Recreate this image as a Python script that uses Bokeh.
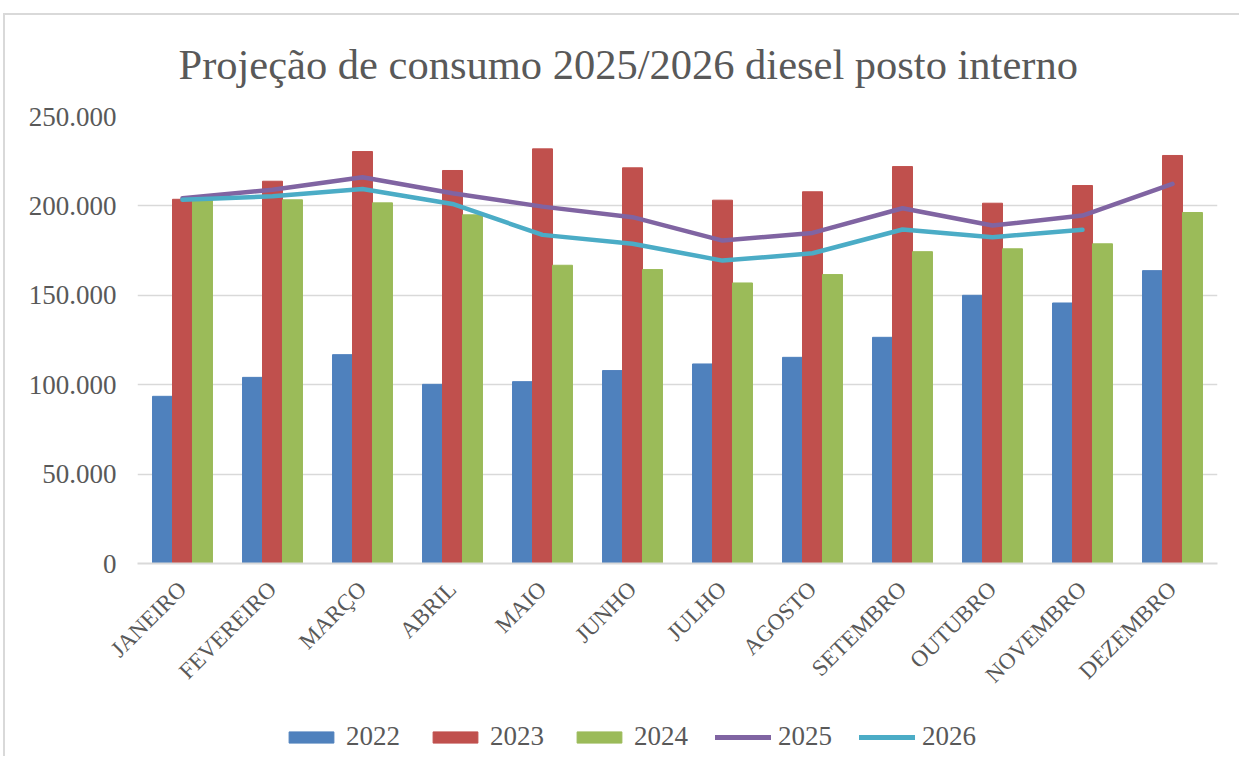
from bokeh.plotting import figure
from bokeh.models import FactorRange, Range1d, FixedTicker, Legend, LegendItem, ColumnDataSource, Title, InlineStyleSheet
from bokeh.transform import dodge
from bokeh.layouts import column
from bokeh.embed import file_html
from bokeh.resources import INLINE
import math

months = ["JANEIRO", "FEVEREIRO", "MARÇO", "ABRIL", "MAIO", "JUNHO", "JULHO",
          "AGOSTO", "SETEMBRO", "OUTUBRO", "NOVEMBRO", "DEZEMBRO"]
v2022 = [93500, 104100, 116800, 100200, 101700, 107900, 111600, 115300, 126500, 150000, 145700, 163800]
v2023 = [203700, 213800, 230400, 219800, 231900, 221300, 203200, 207900, 222000, 201500, 211400, 228200]
v2024 = [203200, 203400, 201700, 195000, 166800, 164400, 156900, 161600, 174400, 176000, 178800, 196300]
v2025 = [204300, 209000, 216000, 207100, 199600, 193700, 180600, 184900, 198700, 189000, 194600, 212300]
v2026 = [203400, 205400, 209500, 201100, 183800, 178800, 169400, 173500, 186800, 182500, 186600, None]
years = ["2022", "2023", "2024", "2025", "2026"]
colors = ["#4F81BD", "#C0504D", "#9BBB59", "#8064A2", "#4BACC6"]
y_ticks = [0, 50000, 100000, 150000, 200000, 250000]
y_tick_labels = ["0", "50.000", "100.000", "150.000", "200.000", "250.000"]

FONT = "Liberation Serif"
TXT = "#595959"

src = ColumnDataSource(dict(m=months, a=v2022, b=v2023, c=v2024))
src25 = ColumnDataSource(dict(m=months, y=v2025))
src26 = ColumnDataSource(dict(m=months[:11], y=v2026[:11]))

p = figure(x_range=FactorRange(*months, range_padding=0), y_range=Range1d(0, 250000),
           frame_width=1080, frame_height=447, output_backend="svg", toolbar_location=None,
           min_border_left=137, min_border_right=14, min_border_top=116, min_border_bottom=153)
p.title = None
t = Title(text="Projeção de consumo 2025/2026 diesel posto interno", align="left",
          text_font=FONT, text_font_size="42.5px", text_color=TXT, text_font_style="normal",
          offset=41, standoff=57)
p.add_layout(t, "above")

bw = 0.222
p.vbar(x=dodge("m", -bw, range=p.x_range), top="a", width=bw, source=src, color=colors[0])
p.vbar(x=dodge("m", 0, range=p.x_range), top="b", width=bw, source=src, color=colors[1])
p.vbar(x=dodge("m", bw, range=p.x_range), top="c", width=bw, source=src, color=colors[2])
p.line(x="m", y="y", source=src25, line_color=colors[3], line_width=4.5, line_join="round", line_cap="round")
p.line(x="m", y="y", source=src26, line_color=colors[4], line_width=4.5, line_join="round", line_cap="round")

p.yaxis.ticker = FixedTicker(ticks=y_ticks)
p.yaxis.major_label_overrides = {t_: l for t_, l in zip(y_ticks, y_tick_labels)}
p.yaxis.axis_line_color = None
p.yaxis.major_tick_line_color = None
p.yaxis.minor_tick_line_color = None
p.yaxis.major_label_text_font = FONT
p.yaxis.major_label_text_font_size = "27px"
p.yaxis.major_label_text_color = TXT
p.yaxis.major_label_standoff = 15

p.xaxis.axis_line_color = "#D9D9D9"
p.xaxis.axis_line_width = 2
p.xaxis.major_tick_line_color = None
p.xaxis.minor_tick_line_color = None
p.xaxis.major_label_orientation = math.pi / 4
p.xaxis.major_label_text_font = FONT
p.xaxis.major_label_text_font_size = "23px"
p.xaxis.major_label_text_color = TXT
p.xaxis.major_label_standoff = 16

p.xgrid.grid_line_color = None
p.ygrid.grid_line_color = "#D9D9D9"
p.ygrid.grid_line_width = 1.5
p.outline_line_color = None

# legend strip below the chart (its frame is aligned with the chart's frame)
lg = figure(width=1231, height=40, x_range=Range1d(0, 1), y_range=Range1d(0, 1),
            output_backend="svg", toolbar_location=None,
            min_border_left=0, min_border_right=0, min_border_top=0, min_border_bottom=0)
lg.axis.visible = False
lg.grid.visible = False
lg.outline_line_color = None
items = []
for i, (yr, c) in enumerate(zip(years, colors)):
    if i < 3:
        r = lg.vbar(x=[-10], top=[-10], width=0.1, color=c)
    else:
        r = lg.line(x=[-10, -9], y=[-10, -10], line_color=c, line_width=5, line_cap="round")
    items.append(LegendItem(label=yr, renderers=[r], index=0))
legend = Legend(items=items, orientation="horizontal", location=(146, 4),
                glyph_width=56, glyph_height=14, label_standoff=7, spacing=27,
                label_text_font=FONT, label_text_font_size="27px", label_text_color=TXT,
                border_line_color=None, background_fill_alpha=0, margin=0, padding=0)
lg.add_layout(legend, "center")

frame_css = InlineStyleSheet(css=":host::before{content:'';position:absolute;left:3px;top:13px;"
                                 "right:-8px;bottom:0;border-top:2px solid #D9D9D9;"
                                 "border-left:2px solid #D9D9D9;pointer-events:none;z-index:100;}")
layout = column(p, lg, stylesheets=[frame_css])

open("out.html", "w").write(file_html(layout, INLINE))
